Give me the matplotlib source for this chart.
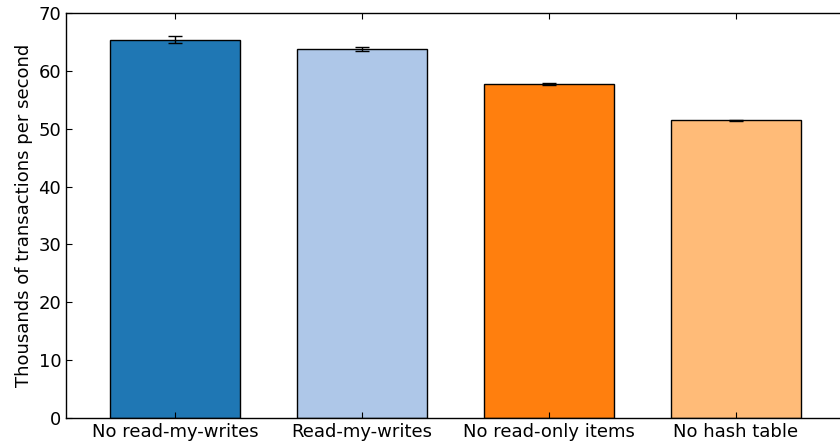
import matplotlib
matplotlib.use("Agg")
import matplotlib.pyplot as plt
import numpy as np

categories = ["No read-my-writes", "Read-my-writes", "No read-only items", "No hash table"]
values = [65.35, 63.75, 57.75, 51.45]
errors = [0.6, 0.3, 0.2, 0.1]
colors = ["#1f77b4", "#aec7e8", "#ff7f0e", "#ffbb78"]
yticks = [0, 10, 20, 30, 40, 50, 60, 70]

plt.rcParams['font.family'] = ['DejaVu Sans']
fig = plt.figure(figsize=(8.4, 4.44), dpi=100)
ax = fig.add_axes([66/840, (444-418)/444, (845-66)/840, (418-13)/444])

x = np.arange(len(categories))
ax.bar(x, values, width=0.7, color=colors, edgecolor="black", linewidth=1.0,
       yerr=errors, error_kw=dict(ecolor="black", capsize=5, elinewidth=1, capthick=1))
ax.set_xlim(-0.583, 3.583)
ax.set_ylim(0, 70)
ax.set_yticks(yticks)
ax.set_xticks(x)
ax.set_xticklabels(categories, fontsize=13)
ax.tick_params(axis='y', labelsize=13, direction='in', length=4, right=False)
ax.tick_params(axis='x', direction='in', length=4, top=True)
ax.set_ylabel("Thousands of transactions per second", fontsize=13)
for s in ax.spines.values():
    s.set_linewidth(1.0)
fig.savefig("out.png", dpi=100)
